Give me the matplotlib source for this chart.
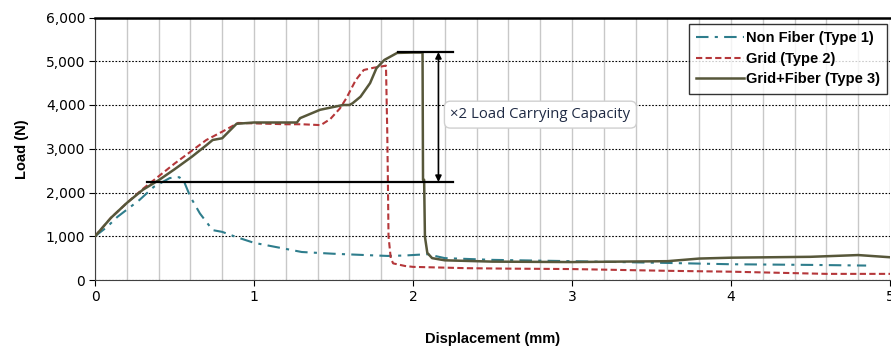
import matplotlib
matplotlib.use("Agg")
import matplotlib.pyplot as plt
from matplotlib.ticker import MultipleLocator, FuncFormatter

# ---- data ----
type1_x = [0, 0.075, 0.14, 0.28, 0.37, 0.47, 0.53, 0.56, 0.6, 0.66, 0.74, 0.8, 0.89, 1.0,
           1.1, 1.23, 1.3, 1.5, 1.7, 1.84, 1.95, 2.09, 2.15, 2.2, 2.5, 3.0, 3.6, 4.0, 4.5, 4.85]
type1_y = [1000, 1210, 1440, 1830, 2130, 2330, 2350, 2250, 1900, 1520, 1140, 1100, 980, 850,
           780, 690, 640, 600, 570, 550, 560, 590, 540, 500, 460, 430, 390, 360, 345, 330]

type2_x = [0, 0.1, 0.2, 0.3, 0.4, 0.5, 0.6, 0.7, 0.8, 0.9, 1.0, 1.1, 1.2, 1.3, 1.42, 1.48,
           1.54, 1.58, 1.64, 1.69, 1.75, 1.8, 1.83, 1.838, 1.842, 1.846, 1.86, 1.875, 1.95,
           2.0, 2.34, 2.6, 3.0, 3.6, 4.0, 4.6, 5.0]
type2_y = [1000, 1420, 1760, 2080, 2370, 2660, 2930, 3200, 3390, 3590, 3580, 3570, 3560, 3560,
           3540, 3680, 3920, 4150, 4570, 4800, 4850, 4880, 4900, 3400, 2300, 1000, 500, 380,
           320, 300, 270, 260, 250, 210, 190, 140, 140]

type3_x = [0, 0.1, 0.2, 0.3, 0.4, 0.5, 0.61, 0.7, 0.74, 0.8, 0.89, 1.0, 1.1, 1.2, 1.27, 1.29,
           1.415, 1.56, 1.6, 1.62, 1.67, 1.73, 1.77, 1.82, 1.9, 2.0, 2.06, 2.063, 2.07, 2.075,
           2.09, 2.12, 2.2, 2.5, 3.0, 3.6, 3.8, 4.0, 4.5, 4.8, 5.0]
type3_y = [1000, 1420, 1760, 2060, 2280, 2530, 2820, 3080, 3200, 3240, 3570, 3600, 3600, 3600,
           3600, 3700, 3890, 4000, 4000, 4040, 4190, 4500, 4840, 5030, 5190, 5200, 5200, 2290,
           2290, 990, 620, 500, 450, 420, 410, 430, 490, 510, 530, 570, 520]

labels = ["Non Fiber (Type 1)", "Grid (Type 2)", "Grid+Fiber (Type 3)"]
annot_text = "\u00d72 Load Carrying Capacity"
low_level, high_level = 2240, 5210

plt.rcParams['font.family'] = ['DejaVu Sans']

fig = plt.figure(figsize=(8.91, 3.46), dpi=100)
ax = fig.add_axes([95/891, 66/346, 795/891, 262.5/346])

ax.plot(type1_x, type1_y, color="#2E7D8C", lw=1.5, linestyle=(0, (6, 3, 1.5, 3)), label=labels[0], zorder=3)
ax.plot(type2_x, type2_y, color="#B5373A", lw=1.5, linestyle=(0, (3, 1.6)), label=labels[1], zorder=3)
ax.plot(type3_x, type3_y, color="#57573A", lw=1.8, linestyle='-', label=labels[2], zorder=4)

# annotation lines
ax.plot([0.33, 2.25], [low_level, low_level], color="black", lw=1.6, zorder=5)
ax.plot([1.905, 2.25], [high_level, high_level], color="black", lw=1.6, zorder=5)
ax.annotate("", xy=(2.16, low_level), xytext=(2.16, high_level),
            arrowprops=dict(arrowstyle="<|-|>", color="black", lw=1.2,
                            mutation_scale=9, shrinkA=0, shrinkB=0), zorder=5)

ax.text(2.235, 3780, annot_text, fontsize=10.7, family=['Open Sans', 'DejaVu Sans'],
        color="#1F2A44", va="center", ha="left", zorder=6,
        bbox=dict(boxstyle="round,pad=0.4,rounding_size=0.4", fc="white",
                  ec="#D0D0D0", lw=1.0))

ax.set_xlim(0, 5)
ax.set_ylim(0, 6000)
ax.xaxis.set_major_locator(MultipleLocator(1))
ax.xaxis.set_minor_locator(MultipleLocator(0.2))
ax.yaxis.set_major_locator(MultipleLocator(1000))
ax.yaxis.set_major_formatter(FuncFormatter(lambda v, p: f"{int(v):,}"))

ax.grid(axis='x', which='both', color="#C8C8C8", lw=1.0, linestyle='-')
ax.grid(axis='y', which='major', color="black", lw=0.8, linestyle=(0, (1.5, 1.5)))
ax.set_axisbelow(True)

ax.tick_params(axis='x', which='major', direction='out', length=4, labelsize=10, pad=3)
ax.tick_params(axis='x', which='minor', length=0)
ax.tick_params(axis='y', direction='out', length=4, labelsize=10, pad=3)

ax.spines['top'].set_linewidth(1.8)
ax.spines['top'].set_color('black')
ax.spines['left'].set_color('#404040')
ax.spines['bottom'].set_color('#404040')
ax.spines['right'].set_visible(False)

ax.set_xlabel("Displacement (mm)", fontsize=10.5, fontweight='bold', labelpad=20,
              family=['Liberation Sans', 'DejaVu Sans'])
ax.set_ylabel("Load (N)", fontsize=10.5, fontweight='bold', labelpad=12,
              family=['Liberation Sans', 'DejaVu Sans'])

leg = ax.legend(loc='upper right', bbox_to_anchor=(0.996, 0.975), borderaxespad=0,
                frameon=True, fancybox=False, edgecolor='black', handlelength=3.3,
                handletextpad=0.1, borderpad=0.5, labelspacing=0.45,
                prop=dict(weight='bold', size=10.5, family=['Liberation Sans', 'DejaVu Sans']))
leg.get_frame().set_linewidth(1.0)
leg.set_zorder(7)

fig.savefig("out.png", dpi=100)
